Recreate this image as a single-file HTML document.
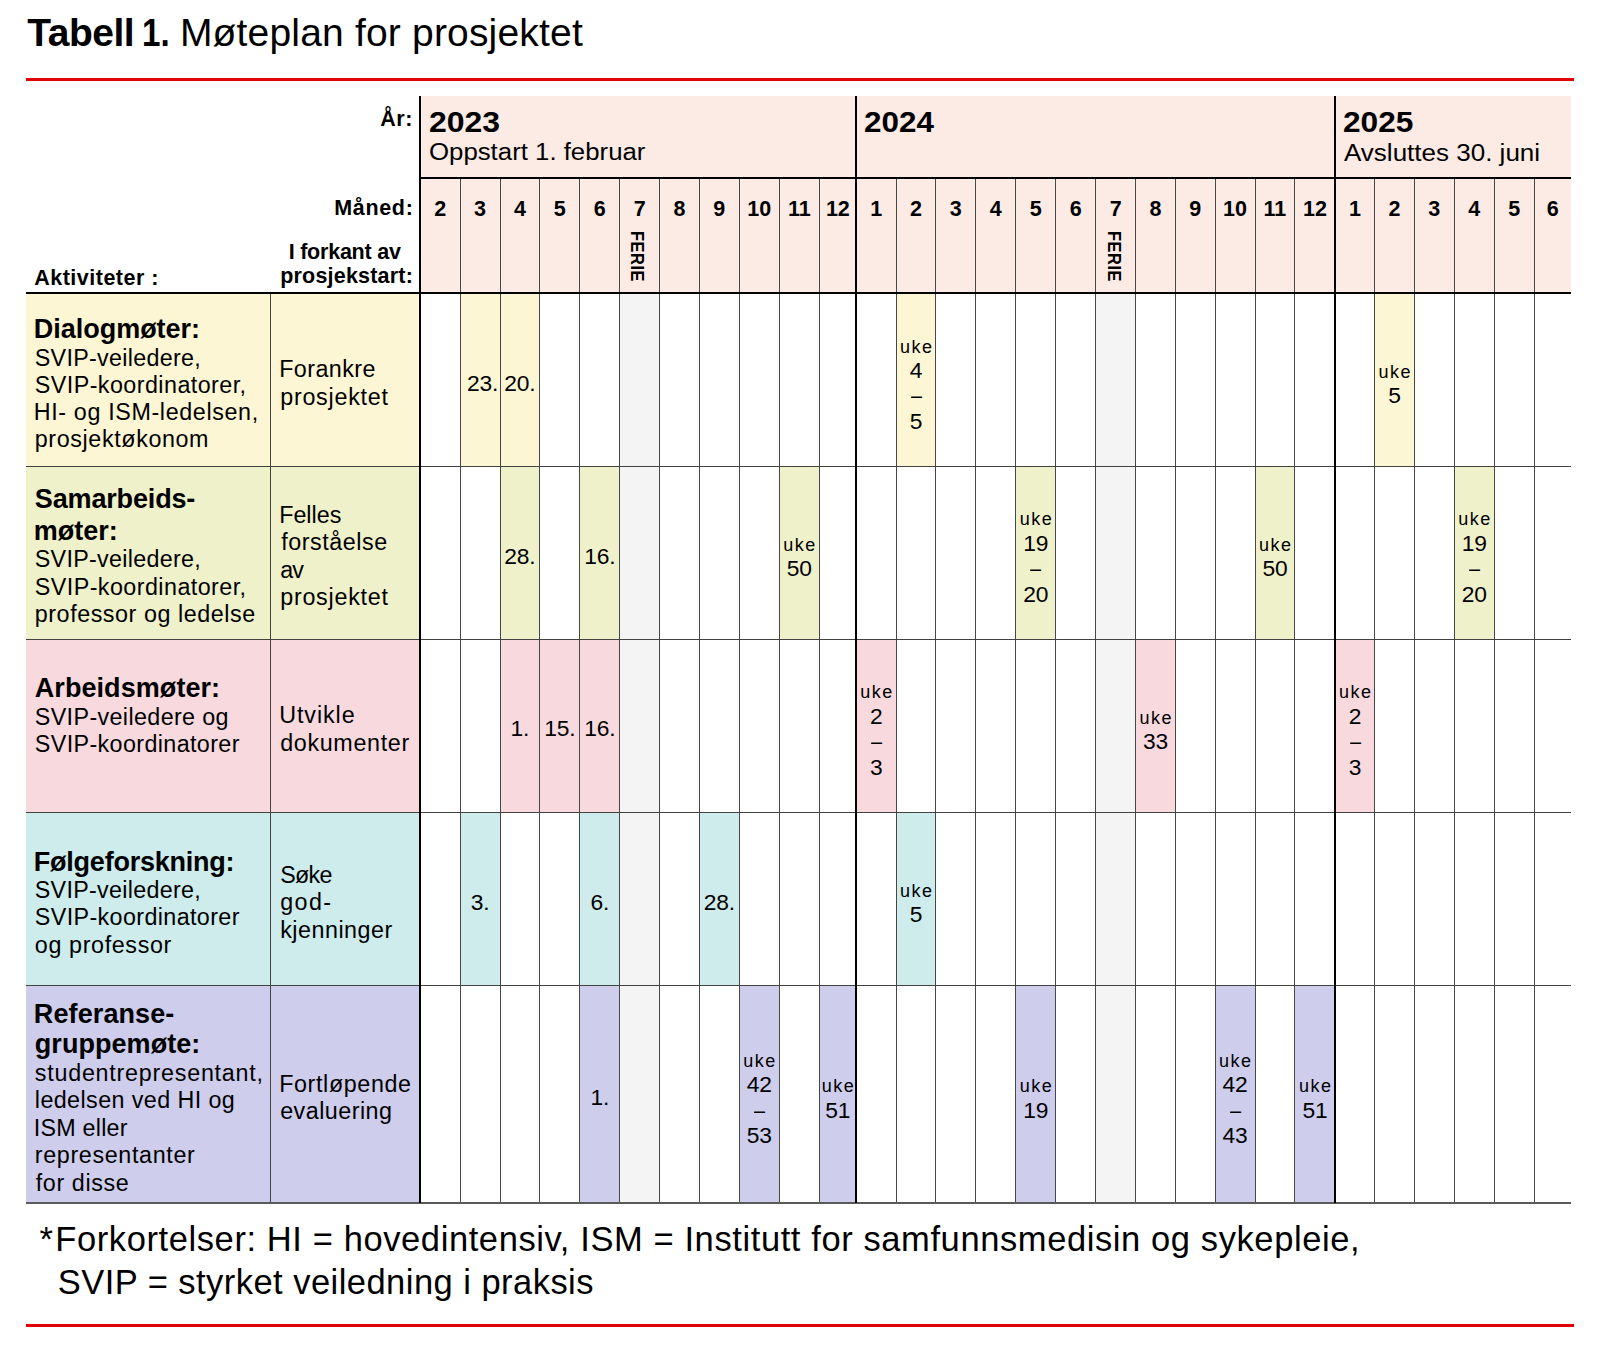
<!DOCTYPE html>
<html lang="no"><head><meta charset="utf-8"><title>Tabell 1. Møteplan for prosjektet</title>
<style>
html,body{margin:0;padding:0;background:#fff}
body{width:1600px;height:1349px;position:relative;overflow:hidden;font-family:"Liberation Sans",sans-serif;color:#000}
.r{position:absolute}
.t{position:absolute;white-space:nowrap;transform-origin:0 0}
.fe{writing-mode:vertical-rl;font-weight:700;font-size:18px;line-height:18px;width:18px;transform-origin:0 0}
</style></head><body>
<div class="r" style="left:421.00px;top:96.00px;width:1150.20px;height:197.00px;background:#fcebe4"></div>
<div class="r" style="left:26.00px;top:293.50px;width:394.00px;height:172.90px;background:#fdf6d4"></div>
<div class="r" style="left:26.00px;top:466.40px;width:394.00px;height:172.90px;background:#eff1cb"></div>
<div class="r" style="left:26.00px;top:639.30px;width:394.00px;height:173.00px;background:#f8dade"></div>
<div class="r" style="left:26.00px;top:812.30px;width:394.00px;height:173.00px;background:#cdeceb"></div>
<div class="r" style="left:26.00px;top:985.30px;width:394.00px;height:218.00px;background:#cecdec"></div>
<div class="r" style="left:619.80px;top:293.00px;width:39.70px;height:910.00px;background:#f4f4f4"></div>
<div class="r" style="left:1095.90px;top:293.00px;width:39.70px;height:910.00px;background:#f4f4f4"></div>
<div class="r" style="left:460.20px;top:293.50px;width:39.80px;height:172.90px;background:#fdf6d4"></div>
<div class="r" style="left:500.00px;top:293.50px;width:39.80px;height:172.90px;background:#fdf6d4"></div>
<div class="r" style="left:896.30px;top:293.50px;width:39.50px;height:172.90px;background:#fdf6d4"></div>
<div class="r" style="left:1374.80px;top:293.50px;width:39.50px;height:172.90px;background:#fdf6d4"></div>
<div class="r" style="left:500.00px;top:466.40px;width:39.80px;height:172.90px;background:#eff1cb"></div>
<div class="r" style="left:579.70px;top:466.40px;width:40.10px;height:172.90px;background:#eff1cb"></div>
<div class="r" style="left:779.30px;top:466.40px;width:40.00px;height:172.90px;background:#eff1cb"></div>
<div class="r" style="left:1015.80px;top:466.40px;width:39.80px;height:172.90px;background:#eff1cb"></div>
<div class="r" style="left:1255.00px;top:466.40px;width:39.80px;height:172.90px;background:#eff1cb"></div>
<div class="r" style="left:1454.30px;top:466.40px;width:39.80px;height:172.90px;background:#eff1cb"></div>
<div class="r" style="left:500.00px;top:639.30px;width:39.80px;height:173.00px;background:#f8dade"></div>
<div class="r" style="left:539.80px;top:639.30px;width:39.90px;height:173.00px;background:#f8dade"></div>
<div class="r" style="left:579.70px;top:639.30px;width:40.10px;height:173.00px;background:#f8dade"></div>
<div class="r" style="left:856.40px;top:639.30px;width:39.90px;height:173.00px;background:#f8dade"></div>
<div class="r" style="left:1135.60px;top:639.30px;width:39.70px;height:173.00px;background:#f8dade"></div>
<div class="r" style="left:1335.20px;top:639.30px;width:39.60px;height:173.00px;background:#f8dade"></div>
<div class="r" style="left:460.20px;top:812.30px;width:39.80px;height:173.00px;background:#cdeceb"></div>
<div class="r" style="left:579.70px;top:812.30px;width:40.10px;height:173.00px;background:#cdeceb"></div>
<div class="r" style="left:699.30px;top:812.30px;width:39.90px;height:173.00px;background:#cdeceb"></div>
<div class="r" style="left:896.30px;top:812.30px;width:39.50px;height:173.00px;background:#cdeceb"></div>
<div class="r" style="left:579.70px;top:985.30px;width:40.10px;height:218.00px;background:#cecdec"></div>
<div class="r" style="left:739.20px;top:985.30px;width:40.10px;height:218.00px;background:#cecdec"></div>
<div class="r" style="left:819.30px;top:985.30px;width:37.10px;height:218.00px;background:#cecdec"></div>
<div class="r" style="left:1015.80px;top:985.30px;width:39.80px;height:218.00px;background:#cecdec"></div>
<div class="r" style="left:1215.10px;top:985.30px;width:39.90px;height:218.00px;background:#cecdec"></div>
<div class="r" style="left:1294.80px;top:985.30px;width:40.40px;height:218.00px;background:#cecdec"></div>
<div class="r" style="left:26.00px;top:78.00px;width:1548.00px;height:3.00px;background:#e00000"></div>
<div class="r" style="left:26.00px;top:1324.00px;width:1548.00px;height:3.00px;background:#e00000"></div>
<div class="r" style="left:460.00px;top:178.00px;width:1.00px;height:1025.00px;background:#474747"></div>
<div class="r" style="left:500.00px;top:178.00px;width:1.00px;height:1025.00px;background:#474747"></div>
<div class="r" style="left:539.00px;top:178.00px;width:1.00px;height:1025.00px;background:#474747"></div>
<div class="r" style="left:579.00px;top:178.00px;width:1.00px;height:1025.00px;background:#474747"></div>
<div class="r" style="left:619.00px;top:178.00px;width:1.00px;height:1025.00px;background:#474747"></div>
<div class="r" style="left:659.00px;top:178.00px;width:1.00px;height:1025.00px;background:#474747"></div>
<div class="r" style="left:699.00px;top:178.00px;width:1.00px;height:1025.00px;background:#474747"></div>
<div class="r" style="left:739.00px;top:178.00px;width:1.00px;height:1025.00px;background:#474747"></div>
<div class="r" style="left:779.00px;top:178.00px;width:1.00px;height:1025.00px;background:#474747"></div>
<div class="r" style="left:819.00px;top:178.00px;width:1.00px;height:1025.00px;background:#474747"></div>
<div class="r" style="left:896.00px;top:178.00px;width:1.00px;height:1025.00px;background:#474747"></div>
<div class="r" style="left:935.00px;top:178.00px;width:1.00px;height:1025.00px;background:#474747"></div>
<div class="r" style="left:975.00px;top:178.00px;width:1.00px;height:1025.00px;background:#474747"></div>
<div class="r" style="left:1015.00px;top:178.00px;width:1.00px;height:1025.00px;background:#474747"></div>
<div class="r" style="left:1055.00px;top:178.00px;width:1.00px;height:1025.00px;background:#474747"></div>
<div class="r" style="left:1095.00px;top:178.00px;width:1.00px;height:1025.00px;background:#474747"></div>
<div class="r" style="left:1135.00px;top:178.00px;width:1.00px;height:1025.00px;background:#474747"></div>
<div class="r" style="left:1175.00px;top:178.00px;width:1.00px;height:1025.00px;background:#474747"></div>
<div class="r" style="left:1215.00px;top:178.00px;width:1.00px;height:1025.00px;background:#474747"></div>
<div class="r" style="left:1255.00px;top:178.00px;width:1.00px;height:1025.00px;background:#474747"></div>
<div class="r" style="left:1294.00px;top:178.00px;width:1.00px;height:1025.00px;background:#474747"></div>
<div class="r" style="left:1374.00px;top:178.00px;width:1.00px;height:1025.00px;background:#474747"></div>
<div class="r" style="left:1414.00px;top:178.00px;width:1.00px;height:1025.00px;background:#474747"></div>
<div class="r" style="left:1454.00px;top:178.00px;width:1.00px;height:1025.00px;background:#474747"></div>
<div class="r" style="left:1494.00px;top:178.00px;width:1.00px;height:1025.00px;background:#474747"></div>
<div class="r" style="left:1534.00px;top:178.00px;width:1.00px;height:1025.00px;background:#474747"></div>
<div class="r" style="left:270.00px;top:293.00px;width:1.20px;height:910.00px;background:#424240"></div>
<div class="r" style="left:26.00px;top:465.80px;width:1545.30px;height:1.20px;background:#424240"></div>
<div class="r" style="left:26.00px;top:638.70px;width:1545.30px;height:1.20px;background:#424240"></div>
<div class="r" style="left:26.00px;top:811.70px;width:1545.30px;height:1.20px;background:#424240"></div>
<div class="r" style="left:26.00px;top:984.70px;width:1545.30px;height:1.20px;background:#424240"></div>
<div class="r" style="left:26.00px;top:1202.20px;width:1545.30px;height:1.80px;background:#5a5a5a"></div>
<div class="r" style="left:419.30px;top:96.00px;width:2.20px;height:1107.00px;background:#000"></div>
<div class="r" style="left:855.30px;top:96.00px;width:2.20px;height:1107.00px;background:#000"></div>
<div class="r" style="left:1334.10px;top:96.00px;width:2.20px;height:1107.00px;background:#000"></div>
<div class="r" style="left:420.00px;top:176.50px;width:1151.30px;height:2.20px;background:#000"></div>
<div class="r" style="left:26.00px;top:292.00px;width:1545.30px;height:2.00px;background:#000"></div>
<div class="t" style="left:467.05px;top:372.00px;font-size:22.8px;line-height:22.8px;letter-spacing:-0.200px;">23.</div>
<div class="t" style="left:504.35px;top:372.00px;font-size:22.8px;line-height:22.8px;letter-spacing:-0.200px;">20.</div>
<div class="t" style="left:900.05px;top:338.00px;font-size:18px;line-height:18px;letter-spacing:1.500px;">uke</div>
<div class="t" style="left:909.81px;top:359.00px;font-size:22.8px;line-height:22.8px;letter-spacing:-0.200px;">4</div>
<div class="t" style="left:910.65px;top:385.00px;font-size:22px;line-height:22px;letter-spacing:0.000px;transform:scaleX(0.9000);">–</div>
<div class="t" style="left:909.81px;top:410.00px;font-size:22.8px;line-height:22.8px;letter-spacing:-0.200px;">5</div>
<div class="t" style="left:1378.55px;top:363.00px;font-size:18px;line-height:18px;letter-spacing:1.500px;">uke</div>
<div class="t" style="left:1388.31px;top:384.00px;font-size:22.8px;line-height:22.8px;letter-spacing:-0.200px;">5</div>
<div class="t" style="left:504.35px;top:545.00px;font-size:22.8px;line-height:22.8px;letter-spacing:-0.200px;">28.</div>
<div class="t" style="left:584.20px;top:545.00px;font-size:22.8px;line-height:22.8px;letter-spacing:-0.200px;">16.</div>
<div class="t" style="left:783.30px;top:536.00px;font-size:18px;line-height:18px;letter-spacing:1.500px;">uke</div>
<div class="t" style="left:786.82px;top:557.00px;font-size:22.8px;line-height:22.8px;letter-spacing:-0.200px;">50</div>
<div class="t" style="left:1019.70px;top:510.00px;font-size:18px;line-height:18px;letter-spacing:1.500px;">uke</div>
<div class="t" style="left:1023.22px;top:532.00px;font-size:22.8px;line-height:22.8px;letter-spacing:-0.200px;">19</div>
<div class="t" style="left:1030.30px;top:558.00px;font-size:22px;line-height:22px;letter-spacing:0.000px;transform:scaleX(0.9000);">–</div>
<div class="t" style="left:1023.22px;top:583.00px;font-size:22.8px;line-height:22.8px;letter-spacing:-0.200px;">20</div>
<div class="t" style="left:1258.90px;top:536.00px;font-size:18px;line-height:18px;letter-spacing:1.500px;">uke</div>
<div class="t" style="left:1262.42px;top:557.00px;font-size:22.8px;line-height:22.8px;letter-spacing:-0.200px;">50</div>
<div class="t" style="left:1458.20px;top:510.00px;font-size:18px;line-height:18px;letter-spacing:1.500px;">uke</div>
<div class="t" style="left:1461.72px;top:532.00px;font-size:22.8px;line-height:22.8px;letter-spacing:-0.200px;">19</div>
<div class="t" style="left:1468.80px;top:558.00px;font-size:22px;line-height:22px;letter-spacing:0.000px;transform:scaleX(0.9000);">–</div>
<div class="t" style="left:1461.72px;top:583.00px;font-size:22.8px;line-height:22.8px;letter-spacing:-0.200px;">20</div>
<div class="t" style="left:510.59px;top:717.00px;font-size:22.8px;line-height:22.8px;letter-spacing:-0.200px;">1.</div>
<div class="t" style="left:544.20px;top:717.00px;font-size:22.8px;line-height:22.8px;letter-spacing:-0.200px;">15.</div>
<div class="t" style="left:584.20px;top:717.00px;font-size:22.8px;line-height:22.8px;letter-spacing:-0.200px;">16.</div>
<div class="t" style="left:860.35px;top:683.00px;font-size:18px;line-height:18px;letter-spacing:1.500px;">uke</div>
<div class="t" style="left:870.11px;top:705.00px;font-size:22.8px;line-height:22.8px;letter-spacing:-0.200px;">2</div>
<div class="t" style="left:870.95px;top:731.00px;font-size:22px;line-height:22px;letter-spacing:0.000px;transform:scaleX(0.9000);">–</div>
<div class="t" style="left:870.11px;top:756.00px;font-size:22.8px;line-height:22.8px;letter-spacing:-0.200px;">3</div>
<div class="t" style="left:1139.45px;top:709.00px;font-size:18px;line-height:18px;letter-spacing:1.500px;">uke</div>
<div class="t" style="left:1142.97px;top:730.00px;font-size:22.8px;line-height:22.8px;letter-spacing:-0.200px;">33</div>
<div class="t" style="left:1339.00px;top:683.00px;font-size:18px;line-height:18px;letter-spacing:1.500px;">uke</div>
<div class="t" style="left:1348.76px;top:705.00px;font-size:22.8px;line-height:22.8px;letter-spacing:-0.200px;">2</div>
<div class="t" style="left:1349.60px;top:731.00px;font-size:22px;line-height:22px;letter-spacing:0.000px;transform:scaleX(0.9000);">–</div>
<div class="t" style="left:1348.76px;top:756.00px;font-size:22.8px;line-height:22.8px;letter-spacing:-0.200px;">3</div>
<div class="t" style="left:470.79px;top:891.00px;font-size:22.8px;line-height:22.8px;letter-spacing:-0.200px;">3.</div>
<div class="t" style="left:590.44px;top:891.00px;font-size:22.8px;line-height:22.8px;letter-spacing:-0.200px;">6.</div>
<div class="t" style="left:703.70px;top:891.00px;font-size:22.8px;line-height:22.8px;letter-spacing:-0.200px;">28.</div>
<div class="t" style="left:900.05px;top:882.00px;font-size:18px;line-height:18px;letter-spacing:1.500px;">uke</div>
<div class="t" style="left:909.81px;top:903.00px;font-size:22.8px;line-height:22.8px;letter-spacing:-0.200px;">5</div>
<div class="t" style="left:590.44px;top:1086.00px;font-size:22.8px;line-height:22.8px;letter-spacing:-0.200px;">1.</div>
<div class="t" style="left:743.25px;top:1052.00px;font-size:18px;line-height:18px;letter-spacing:1.500px;">uke</div>
<div class="t" style="left:746.77px;top:1073.00px;font-size:22.8px;line-height:22.8px;letter-spacing:-0.200px;">42</div>
<div class="t" style="left:753.85px;top:1100.00px;font-size:22px;line-height:22px;letter-spacing:0.000px;transform:scaleX(0.9000);">–</div>
<div class="t" style="left:746.77px;top:1124.00px;font-size:22.8px;line-height:22.8px;letter-spacing:-0.200px;">53</div>
<div class="t" style="left:821.85px;top:1077.00px;font-size:18px;line-height:18px;letter-spacing:1.500px;">uke</div>
<div class="t" style="left:825.37px;top:1099.00px;font-size:22.8px;line-height:22.8px;letter-spacing:-0.200px;">51</div>
<div class="t" style="left:1019.70px;top:1077.00px;font-size:18px;line-height:18px;letter-spacing:1.500px;">uke</div>
<div class="t" style="left:1023.22px;top:1099.00px;font-size:22.8px;line-height:22.8px;letter-spacing:-0.200px;">19</div>
<div class="t" style="left:1219.05px;top:1052.00px;font-size:18px;line-height:18px;letter-spacing:1.500px;">uke</div>
<div class="t" style="left:1222.57px;top:1073.00px;font-size:22.8px;line-height:22.8px;letter-spacing:-0.200px;">42</div>
<div class="t" style="left:1229.65px;top:1100.00px;font-size:22px;line-height:22px;letter-spacing:0.000px;transform:scaleX(0.9000);">–</div>
<div class="t" style="left:1222.57px;top:1124.00px;font-size:22.8px;line-height:22.8px;letter-spacing:-0.200px;">43</div>
<div class="t" style="left:1299.00px;top:1077.00px;font-size:18px;line-height:18px;letter-spacing:1.500px;">uke</div>
<div class="t" style="left:1302.52px;top:1099.00px;font-size:22.8px;line-height:22.8px;letter-spacing:-0.200px;">51</div>
<div class="t" style="left:27.20px;top:13.00px;font-size:39px;line-height:39px;font-weight:700;letter-spacing:-0.460px;">Tabell</div>
<div class="t" style="left:142.05px;top:13.00px;font-size:39px;line-height:39px;font-weight:700;letter-spacing:0.000px;transform:scaleX(0.8482);">1.</div>
<div class="t" style="left:179.90px;top:13.00px;font-size:39px;line-height:39px;letter-spacing:0.182px;">Møteplan for prosjektet</div>
<div class="t" style="left:380.20px;top:109.00px;font-size:21.5px;line-height:21.5px;font-weight:700;letter-spacing:0.550px;">År:</div>
<div class="t" style="left:334.20px;top:198.00px;font-size:21.5px;line-height:21.5px;font-weight:700;letter-spacing:0.680px;">Måned:</div>
<div class="t" style="left:288.70px;top:242.00px;font-size:21.5px;line-height:21.5px;font-weight:700;letter-spacing:-0.227px;">I forkant av</div>
<div class="t" style="left:280.20px;top:266.00px;font-size:21.5px;line-height:21.5px;font-weight:700;letter-spacing:0.200px;">prosjekstart:</div>
<div class="t" style="left:34.20px;top:268.00px;font-size:21.5px;line-height:21.5px;font-weight:700;letter-spacing:0.500px;">Aktiviteter :</div>
<div class="t" style="left:429.10px;top:108.00px;font-size:29px;line-height:29px;font-weight:700;letter-spacing:0.000px;transform:scaleX(1.1016);">2023</div>
<div class="t" style="left:864.42px;top:108.00px;font-size:29px;line-height:29px;font-weight:700;letter-spacing:0.000px;transform:scaleX(1.0828);">2024</div>
<div class="t" style="left:1343.31px;top:108.00px;font-size:29px;line-height:29px;font-weight:700;letter-spacing:0.000px;transform:scaleX(1.0905);">2025</div>
<div class="t" style="left:429.09px;top:141.00px;font-size:23.3px;line-height:23.3px;letter-spacing:0.000px;transform:scaleX(1.1067);">Oppstart 1. februar</div>
<div class="t" style="left:1344.40px;top:142.00px;font-size:23.3px;line-height:23.3px;letter-spacing:0.000px;transform:scaleX(1.1161);">Avsluttes 30. juni</div>
<div class="t" style="left:434.32px;top:199.00px;font-size:21.5px;line-height:21.5px;font-weight:700;letter-spacing:0.000px;">2</div>
<div class="t" style="left:474.12px;top:199.00px;font-size:21.5px;line-height:21.5px;font-weight:700;letter-spacing:0.000px;">3</div>
<div class="t" style="left:513.92px;top:199.00px;font-size:21.5px;line-height:21.5px;font-weight:700;letter-spacing:0.000px;">4</div>
<div class="t" style="left:553.77px;top:199.00px;font-size:21.5px;line-height:21.5px;font-weight:700;letter-spacing:0.000px;">5</div>
<div class="t" style="left:593.77px;top:199.00px;font-size:21.5px;line-height:21.5px;font-weight:700;letter-spacing:0.000px;">6</div>
<div class="t" style="left:633.67px;top:199.00px;font-size:21.5px;line-height:21.5px;font-weight:700;letter-spacing:0.000px;">7</div>
<div class="t" style="left:673.42px;top:199.00px;font-size:21.5px;line-height:21.5px;font-weight:700;letter-spacing:0.000px;">8</div>
<div class="t" style="left:713.27px;top:199.00px;font-size:21.5px;line-height:21.5px;font-weight:700;letter-spacing:0.000px;">9</div>
<div class="t" style="left:747.29px;top:199.00px;font-size:21.5px;line-height:21.5px;font-weight:700;letter-spacing:0.000px;">10</div>
<div class="t" style="left:787.93px;top:199.00px;font-size:21.5px;line-height:21.5px;font-weight:700;letter-spacing:0.000px;">11</div>
<div class="t" style="left:825.89px;top:199.00px;font-size:21.5px;line-height:21.5px;font-weight:700;letter-spacing:0.000px;">12</div>
<div class="t" style="left:870.37px;top:199.00px;font-size:21.5px;line-height:21.5px;font-weight:700;letter-spacing:0.000px;">1</div>
<div class="t" style="left:910.07px;top:199.00px;font-size:21.5px;line-height:21.5px;font-weight:700;letter-spacing:0.000px;">2</div>
<div class="t" style="left:949.87px;top:199.00px;font-size:21.5px;line-height:21.5px;font-weight:700;letter-spacing:0.000px;">3</div>
<div class="t" style="left:989.87px;top:199.00px;font-size:21.5px;line-height:21.5px;font-weight:700;letter-spacing:0.000px;">4</div>
<div class="t" style="left:1029.72px;top:199.00px;font-size:21.5px;line-height:21.5px;font-weight:700;letter-spacing:0.000px;">5</div>
<div class="t" style="left:1069.77px;top:199.00px;font-size:21.5px;line-height:21.5px;font-weight:700;letter-spacing:0.000px;">6</div>
<div class="t" style="left:1109.77px;top:199.00px;font-size:21.5px;line-height:21.5px;font-weight:700;letter-spacing:0.000px;">7</div>
<div class="t" style="left:1149.47px;top:199.00px;font-size:21.5px;line-height:21.5px;font-weight:700;letter-spacing:0.000px;">8</div>
<div class="t" style="left:1189.22px;top:199.00px;font-size:21.5px;line-height:21.5px;font-weight:700;letter-spacing:0.000px;">9</div>
<div class="t" style="left:1223.09px;top:199.00px;font-size:21.5px;line-height:21.5px;font-weight:700;letter-spacing:0.000px;">10</div>
<div class="t" style="left:1263.53px;top:199.00px;font-size:21.5px;line-height:21.5px;font-weight:700;letter-spacing:0.000px;">11</div>
<div class="t" style="left:1303.04px;top:199.00px;font-size:21.5px;line-height:21.5px;font-weight:700;letter-spacing:0.000px;">12</div>
<div class="t" style="left:1349.02px;top:199.00px;font-size:21.5px;line-height:21.5px;font-weight:700;letter-spacing:0.000px;">1</div>
<div class="t" style="left:1388.57px;top:199.00px;font-size:21.5px;line-height:21.5px;font-weight:700;letter-spacing:0.000px;">2</div>
<div class="t" style="left:1428.32px;top:199.00px;font-size:21.5px;line-height:21.5px;font-weight:700;letter-spacing:0.000px;">3</div>
<div class="t" style="left:1468.22px;top:199.00px;font-size:21.5px;line-height:21.5px;font-weight:700;letter-spacing:0.000px;">4</div>
<div class="t" style="left:1508.22px;top:199.00px;font-size:21.5px;line-height:21.5px;font-weight:700;letter-spacing:0.000px;">5</div>
<div class="t" style="left:1546.82px;top:199.00px;font-size:21.5px;line-height:21.5px;font-weight:700;letter-spacing:0.000px;">6</div>
<div class="t" style="left:33.80px;top:316.00px;font-size:27px;line-height:27px;font-weight:700;letter-spacing:-0.023px;">Dialogmøter:</div>
<div class="t" style="left:34.80px;top:347.00px;font-size:23.3px;line-height:23.3px;letter-spacing:0.286px;">SVIP-veiledere,</div>
<div class="t" style="left:34.80px;top:374.00px;font-size:23.3px;line-height:23.3px;letter-spacing:0.444px;">SVIP-koordinatorer,</div>
<div class="t" style="left:33.80px;top:401.00px;font-size:23.3px;line-height:23.3px;letter-spacing:0.632px;">HI- og ISM-ledelsen,</div>
<div class="t" style="left:34.80px;top:428.00px;font-size:23.3px;line-height:23.3px;letter-spacing:0.615px;">prosjektøkonom</div>
<div class="t" style="left:34.80px;top:486.00px;font-size:27px;line-height:27px;font-weight:700;letter-spacing:-0.150px;">Samarbeids-</div>
<div class="t" style="left:33.80px;top:518.00px;font-size:27px;line-height:27px;font-weight:700;letter-spacing:0.000px;">møter:</div>
<div class="t" style="left:34.80px;top:548.00px;font-size:23.3px;line-height:23.3px;letter-spacing:0.286px;">SVIP-veiledere,</div>
<div class="t" style="left:34.80px;top:576.00px;font-size:23.3px;line-height:23.3px;letter-spacing:0.444px;">SVIP-koordinatorer,</div>
<div class="t" style="left:34.80px;top:603.00px;font-size:23.3px;line-height:23.3px;letter-spacing:0.553px;">professor og ledelse</div>
<div class="t" style="left:34.80px;top:675.00px;font-size:27px;line-height:27px;font-weight:700;letter-spacing:0.062px;">Arbeidsmøter:</div>
<div class="t" style="left:34.80px;top:706.00px;font-size:23.3px;line-height:23.3px;letter-spacing:0.375px;">SVIP-veiledere og</div>
<div class="t" style="left:34.80px;top:733.00px;font-size:23.3px;line-height:23.3px;letter-spacing:0.382px;">SVIP-koordinatorer</div>
<div class="t" style="left:33.80px;top:849.00px;font-size:27px;line-height:27px;font-weight:700;letter-spacing:-0.232px;">Følgeforskning:</div>
<div class="t" style="left:34.80px;top:879.00px;font-size:23.3px;line-height:23.3px;letter-spacing:0.286px;">SVIP-veiledere,</div>
<div class="t" style="left:34.80px;top:906.00px;font-size:23.3px;line-height:23.3px;letter-spacing:0.382px;">SVIP-koordinatorer</div>
<div class="t" style="left:34.80px;top:934.00px;font-size:23.3px;line-height:23.3px;letter-spacing:0.636px;">og professor</div>
<div class="t" style="left:33.80px;top:1001.00px;font-size:27px;line-height:27px;font-weight:700;letter-spacing:0.111px;">Referanse-</div>
<div class="t" style="left:34.80px;top:1031.00px;font-size:27px;line-height:27px;font-weight:700;letter-spacing:0.050px;">gruppemøte:</div>
<div class="t" style="left:34.80px;top:1062.00px;font-size:23.3px;line-height:23.3px;letter-spacing:0.763px;">studentrepresentant,</div>
<div class="t" style="left:34.80px;top:1089.00px;font-size:23.3px;line-height:23.3px;letter-spacing:0.412px;">ledelsen ved HI og</div>
<div class="t" style="left:33.80px;top:1117.00px;font-size:23.3px;line-height:23.3px;letter-spacing:0.219px;">ISM eller</div>
<div class="t" style="left:34.80px;top:1144.00px;font-size:23.3px;line-height:23.3px;letter-spacing:0.654px;">representanter</div>
<div class="t" style="left:35.80px;top:1172.00px;font-size:23.3px;line-height:23.3px;letter-spacing:0.594px;">for disse</div>
<div class="t" style="left:279.20px;top:358.00px;font-size:23.3px;line-height:23.3px;letter-spacing:0.429px;">Forankre</div>
<div class="t" style="left:280.20px;top:386.00px;font-size:23.3px;line-height:23.3px;letter-spacing:0.750px;">prosjektet</div>
<div class="t" style="left:279.20px;top:504.00px;font-size:23.3px;line-height:23.3px;letter-spacing:0.000px;">Felles</div>
<div class="t" style="left:281.20px;top:531.00px;font-size:23.3px;line-height:23.3px;letter-spacing:0.556px;">forståelse</div>
<div class="t" style="left:280.20px;top:559.00px;font-size:23.3px;line-height:23.3px;letter-spacing:-1.000px;">av</div>
<div class="t" style="left:280.20px;top:586.00px;font-size:23.3px;line-height:23.3px;letter-spacing:0.750px;">prosjektet</div>
<div class="t" style="left:279.20px;top:704.00px;font-size:23.3px;line-height:23.3px;letter-spacing:0.917px;">Utvikle</div>
<div class="t" style="left:280.20px;top:732.00px;font-size:23.3px;line-height:23.3px;letter-spacing:0.667px;">dokumenter</div>
<div class="t" style="left:280.20px;top:864.00px;font-size:23.3px;line-height:23.3px;letter-spacing:-0.667px;">Søke</div>
<div class="t" style="left:280.20px;top:891.00px;font-size:23.3px;line-height:23.3px;letter-spacing:1.417px;">god-</div>
<div class="t" style="left:280.20px;top:919.00px;font-size:23.3px;line-height:23.3px;letter-spacing:0.500px;">kjenninger</div>
<div class="t" style="left:279.20px;top:1073.00px;font-size:23.3px;line-height:23.3px;letter-spacing:0.625px;">Fortløpende</div>
<div class="t" style="left:280.20px;top:1100.00px;font-size:23.3px;line-height:23.3px;letter-spacing:0.472px;">evaluering</div>
<div class="t" style="left:39.60px;top:1222.00px;font-size:34.5px;line-height:34.5px;letter-spacing:0.000px;">*</div>
<div class="t" style="left:55.25px;top:1222.00px;font-size:34.5px;line-height:34.5px;letter-spacing:0.598px;">Forkortelser: HI = hovedintensiv, ISM = Institutt for samfunnsmedisin og sykepleie,</div>
<div class="t" style="left:57.75px;top:1265.00px;font-size:34.5px;line-height:34.5px;letter-spacing:0.463px;">SVIP = styrket veiledning i praksis</div>
<div class="t fe" style="left:628.00px;top:231.4px;letter-spacing:0.6px;transform:scaleY(0.912)">FERIE</div>
<div class="t fe" style="left:1104.60px;top:231.4px;letter-spacing:0.6px;transform:scaleY(0.912)">FERIE</div>
</body></html>
